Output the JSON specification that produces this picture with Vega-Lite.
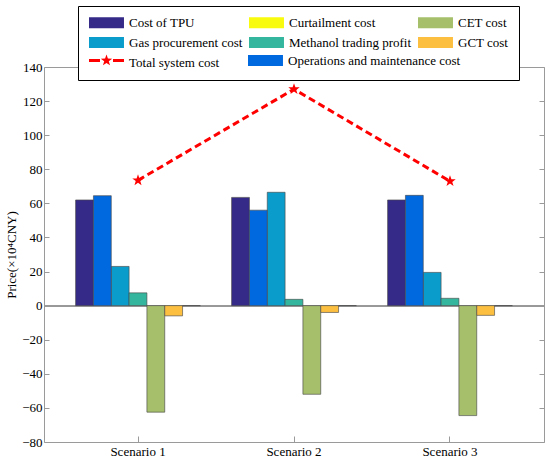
{
  "$schema": "https://vega.github.io/schema/vega-lite/v6.json",
  "width": 500,
  "height": 375,
  "autosize": {"type": "none"},
  "padding": {"left": 44, "top": 67, "right": 6, "bottom": 19},
  "background": "white",
  "config": {
    "view": {"stroke": "#9a9a9a", "strokeWidth": 1},
    "font": "Liberation Serif",
    "axis": {
      "labelFont": "Liberation Serif", "labelFontSize": 13, "labelColor": "black",
      "titleFont": "Liberation Serif", "titleFontSize": 13, "titleColor": "black", "titleFontWeight": "normal",
      "domainColor": "#9a9a9a", "tickColor": "#9a9a9a", "grid": false
    }
  },
  "data": {
    "values": [
      {"Scenario": "Scenario 1", "Item": "Cost of TPU", "Value": 62},
      {"Scenario": "Scenario 1", "Item": "Operations and maintenance cost", "Value": 64.5},
      {"Scenario": "Scenario 1", "Item": "Gas procurement cost", "Value": 23},
      {"Scenario": "Scenario 1", "Item": "Methanol trading profit", "Value": 7.5},
      {"Scenario": "Scenario 1", "Item": "CET cost", "Value": -62.5},
      {"Scenario": "Scenario 1", "Item": "GCT cost", "Value": -6},
      {"Scenario": "Scenario 1", "Item": "Curtailment cost", "Value": 0},
      {"Scenario": "Scenario 1", "Item": "Total system cost", "Value": 73.5},
      {"Scenario": "Scenario 2", "Item": "Cost of TPU", "Value": 63.5},
      {"Scenario": "Scenario 2", "Item": "Operations and maintenance cost", "Value": 56},
      {"Scenario": "Scenario 2", "Item": "Gas procurement cost", "Value": 66.5},
      {"Scenario": "Scenario 2", "Item": "Methanol trading profit", "Value": 3.7},
      {"Scenario": "Scenario 2", "Item": "CET cost", "Value": -52},
      {"Scenario": "Scenario 2", "Item": "GCT cost", "Value": -4},
      {"Scenario": "Scenario 2", "Item": "Curtailment cost", "Value": 0},
      {"Scenario": "Scenario 2", "Item": "Total system cost", "Value": 127},
      {"Scenario": "Scenario 3", "Item": "Cost of TPU", "Value": 62},
      {"Scenario": "Scenario 3", "Item": "Operations and maintenance cost", "Value": 64.7},
      {"Scenario": "Scenario 3", "Item": "Gas procurement cost", "Value": 19.5},
      {"Scenario": "Scenario 3", "Item": "Methanol trading profit", "Value": 4.3},
      {"Scenario": "Scenario 3", "Item": "CET cost", "Value": -64.5},
      {"Scenario": "Scenario 3", "Item": "GCT cost", "Value": -5.7},
      {"Scenario": "Scenario 3", "Item": "Curtailment cost", "Value": 0},
      {"Scenario": "Scenario 3", "Item": "Total system cost", "Value": 73}
    ]
  },
  "layer": [
    {
      "mark": {"type": "rule", "color": "#9a9a9a", "strokeWidth": 1},
      "encoding": {
        "y": {
          "datum": 0, "type": "quantitative", "scale": {"domain": [-80, 140], "nice": false},
          "axis": {"orient": "left", "title": "Price(×10⁴CNY)", "values": [-80, -60, -40, -20, 0, 20, 40, 60, 80, 100, 120, 140], "offset": -5, "tickSize": 5, "domain": false, "labelPadding": 2, "titlePadding": 3}
        }
      }
    },
    {
      "transform": [{"filter": "datum.Item !== 'Total system cost' && datum.Item !== 'Operations and maintenance cost'"}],
      "mark": {"type": "bar", "stroke": "#4a4a4a", "strokeWidth": 0.8, "strokeOpacity": 0.8},
      "encoding": {
        "x": {
          "field": "Scenario", "type": "nominal",
          "scale": {"type": "band", "paddingInner": 0.2, "paddingOuter": 0.2026},
          "axis": {"orient": "bottom", "title": null, "labelAngle": 0, "offset": -6, "tickSize": 6, "domain": false, "labelPadding": 3}
        },
        "xOffset": {
          "field": "Item", "type": "nominal",
          "scale": {"domain": ["Cost of TPU", "Operations and maintenance cost", "Gas procurement cost", "Methanol trading profit", "CET cost", "GCT cost", "Curtailment cost"], "paddingInner": 0, "paddingOuter": 0}
        },
        "y": {"field": "Value", "type": "quantitative", "axis": null},
        "fill": {
          "field": "Item", "type": "nominal",
          "scale": {
            "domain": ["Cost of TPU", "Curtailment cost", "CET cost", "Gas procurement cost", "Methanol trading profit", "GCT cost", "Total system cost"],
            "range": ["#352A87", "#F9FB0E", "#A5BF6A", "#0A9DCB", "#33B69D", "#FDBF3F", "#FFFFFF"]
          },
          "legend": {
            "title": null, "orient": "none", "legendX": 34, "legendY": -61, "direction": "horizontal",
            "columns": 3, "columnPadding": 5, "rowPadding": 6,
            "symbolSize": 121, "symbolStrokeWidth": 0, "symbolType": "M-1,-1H5.36V1H-1Z", "labelOffset": 28,
            "labelFont": "Liberation Serif", "labelFontSize": 13, "labelColor": "black", "labelLimit": 300,
            "strokeColor": "black", "fillColor": "white", "padding": 10
          }
        }
      }
    },
    {
      "transform": [{"filter": "datum.Item === 'Operations and maintenance cost'"}],
      "mark": {"type": "bar", "stroke": "#4a4a4a", "strokeWidth": 0.8, "strokeOpacity": 0.8},
      "encoding": {
        "x": {"field": "Scenario", "type": "nominal", "axis": null},
        "xOffset": {"field": "Item", "type": "nominal"},
        "y": {"field": "Value", "type": "quantitative", "axis": null},
        "color": {
          "field": "Item", "type": "nominal",
          "scale": {"domain": ["Operations and maintenance cost"], "range": ["#0069DF"]},
          "legend": {
            "title": null, "orient": "none", "legendX": 203, "legendY": -13,
            "symbolSize": 121, "symbolStrokeWidth": 0, "symbolType": "M-1,-1H5.36V1H-1Z", "labelOffset": 28,
            "labelFont": "Liberation Serif", "labelFontSize": 13, "labelColor": "black", "labelLimit": 300,
            "padding": 0
          }
        }
      }
    },
    {
      "transform": [{"filter": "datum.Item === 'Total system cost'"}],
      "mark": {"type": "line", "color": "#FF0000", "strokeWidth": 3, "strokeDash": [7, 4]},
      "encoding": {
        "x": {
          "field": "Scenario", "type": "nominal", "bandPosition": 0.5,
          "axis": {"orient": "top", "title": null, "labels": false, "offset": -6, "tickSize": 6, "domain": false}
        },
        "y": {
          "field": "Value", "type": "quantitative",
          "axis": {"orient": "right", "title": null, "labels": false, "values": [-80, -60, -40, -20, 0, 20, 40, 60, 80, 100, 120, 140], "offset": -5, "tickSize": 5, "domain": false}
        }
      }
    },
    {
      "transform": [{"filter": "datum.Item === 'Total system cost'"}],
      "mark": {"type": "point", "shape": "M0,-1L0.235,-0.324L0.951,-0.309L0.38,0.124L0.588,0.809L0,0.4L-0.588,0.809L-0.38,0.124L-0.951,-0.309L-0.235,-0.324Z", "filled": true, "size": 144, "opacity": 1},
      "encoding": {
        "x": {"field": "Scenario", "type": "nominal", "bandPosition": 0.5, "axis": null},
        "y": {"field": "Value", "type": "quantitative", "axis": null},
        "color": {
          "field": "Item", "type": "nominal",
          "scale": {"domain": ["Total system cost"], "range": ["#FF0000"]},
          "legend": {
            "title": null, "orient": "none", "legendX": 44, "legendY": -13,
            "symbolSize": 121, "symbolStrokeWidth": 0, "symbolOpacity": 1,
            "symbolType": "M-1,-0.27H1V0.27H-1Z M3.36,-0.27H5.36V0.27H3.36Z M2.18,-1.09L2.436,-0.353L3.217,-0.337L2.594,0.135L2.821,0.882L2.18,0.436L1.539,0.882L1.766,0.135L1.143,-0.337L1.924,-0.353Z",
            "labelExpr": "''", "labelOffset": 28, "labelFontSize": 13, "padding": 0
          }
        }
      }
    }
  ],
  "resolve": {"axis": {"x": "independent", "y": "independent"}, "scale": {"color": "independent"}}
}
